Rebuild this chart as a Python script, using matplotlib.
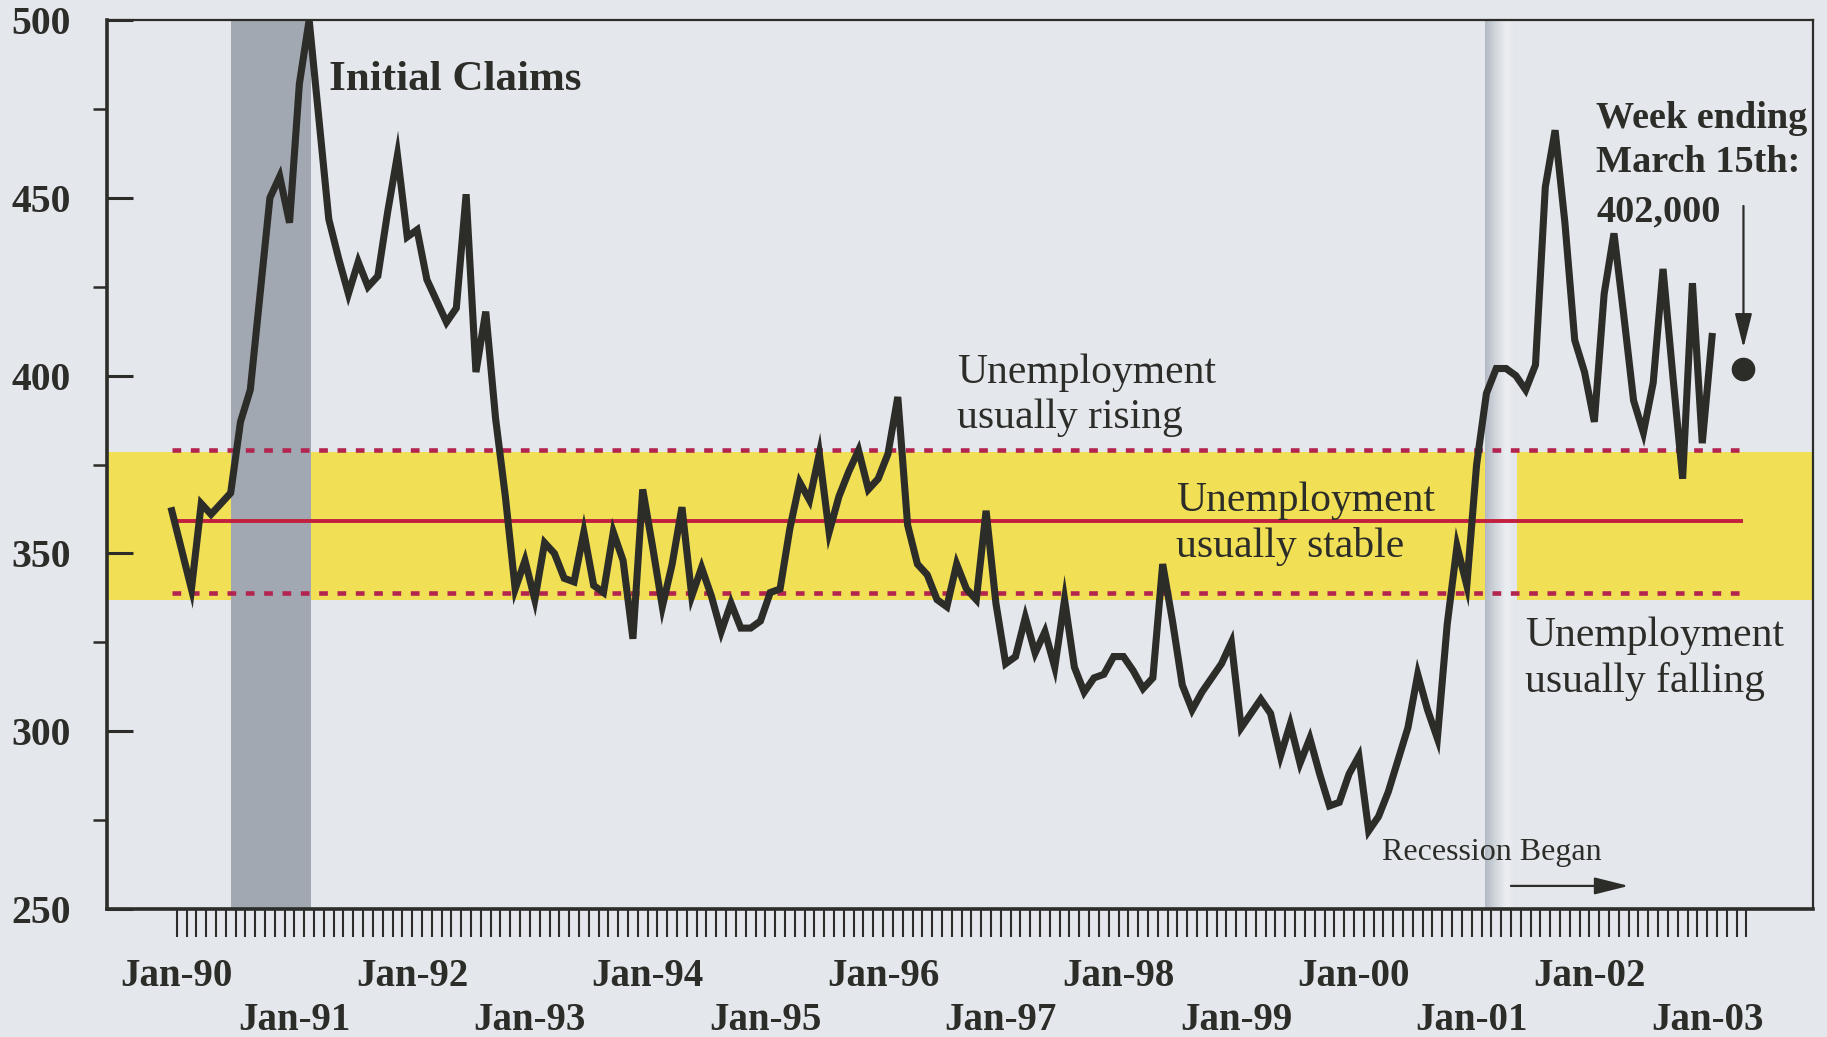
import numpy as np
import matplotlib.pyplot as plt
from matplotlib.ticker import FixedLocator, NullFormatter
from matplotlib.colors import LinearSegmentedColormap

# --- Data: initial jobless claims (thousands), monthly, first value Dec-89 ---
claims = [
    362, 351, 340, 364, 361, 364, 367, 387, 396, 423,
    450, 456, 443, 482, 500, 472, 444, 433, 423, 432,
    425, 428, 446, 462, 439, 441, 427, 421, 415, 419,
    451, 401, 418, 388, 366, 340, 348, 337, 353, 350,
    343, 342, 356, 341, 339, 356, 348, 326, 368, 352,
    335, 347, 363, 338, 346, 338, 328, 336, 329, 329,
    331, 339, 340, 357, 370, 365, 378, 356, 366, 373,
    379, 368, 371, 378, 394, 358, 347, 344, 337, 335,
    347, 340, 337, 362, 336, 319, 321, 332, 322, 328,
    318, 337, 318, 311, 315, 316, 321, 321, 317, 312,
    315, 347, 331, 313, 306, 311, 315, 319, 325, 301,
    305, 309, 305, 293, 302, 291, 298, 288, 279, 280,
    288, 293, 272, 276, 283, 292, 301, 316, 306, 298,
    330, 352, 341, 375, 395, 402, 402, 400, 396, 403,
    453, 469, 443, 410, 401, 387, 423, 440, 417, 393,
    384, 398, 430, 400, 371, 426, 381, 411,
]
year_labels = ["Jan-90", "Jan-91", "Jan-92", "Jan-93", "Jan-94", "Jan-95", "Jan-96",
               "Jan-97", "Jan-98", "Jan-99", "Jan-00", "Jan-01", "Jan-02", "Jan-03"]

stable_level = 359       # unemployment usually stable
rising_level = 379       # above: usually rising
falling_level = 339      # below: usually falling
band_low, band_high = 337, 378.5

latest_month = 159.7     # week ending March 15th, 2003
latest_value = 402

recession_1990 = (5.5, 13.7)
recession_2001 = (133.4, 136.6)
n_month_ticks = 161

# --- Style ---
BG = "#e4e7ec"
INK = "#2c2c28"
YELLOW = "#f1df55"
plt.rcParams["font.family"] = ["Liberation Serif", "DejaVu Serif"]

x = np.arange(len(claims)) - 0.5   # plotted mid-month, ticks at month starts (Jan-90 = 0)

fig = plt.figure(figsize=(18.27, 10.37), dpi=100, facecolor=BG)
ax = fig.add_axes([0.0586, 0.1234, 0.9338, 0.8573], facecolor=BG)
ax.set_xlim(-7.1, 166.8)
ax.set_ylim(250, 500)

# bands
ax.axhspan(band_low, band_high, color=YELLOW, lw=0, zorder=1)
ax.axvspan(*recession_1990, color="#a1a8b2", lw=0, zorder=2)
gutter = LinearSegmentedColormap.from_list("gutter", ["#b3bac4", "#d2d7dd", "#eceef2", "#e2e5ea"])
ax.imshow(np.linspace(0, 1, 64).reshape(1, -1), cmap=gutter, aspect="auto",
          extent=(recession_2001[0], recession_2001[1], 250, 500), zorder=2)

# reference lines
ax.hlines([rising_level, falling_level], x[0], latest_month, colors="#b3244f",
          lw=3.3, linestyles=(0, (1.9, 2.1)), zorder=3)
ax.hlines(stable_level, x[0], latest_month, colors="#c2203e", lw=2.8, zorder=3)

# claims
ax.plot(x, claims, color=INK, lw=5.1, solid_joinstyle="miter", zorder=5)
ax.plot(latest_month, latest_value, "o", color=INK, ms=16, zorder=6)

# axes look
for side in ["left", "bottom"]:
    ax.spines[side].set_linewidth(2.6)
for side in ["top", "right"]:
    ax.spines[side].set_linewidth(1.6)
for s in ax.spines.values():
    s.set_color(INK)
    s.set_zorder(7)

ax.yaxis.set_major_locator(FixedLocator(np.arange(250, 501, 50)))
ax.yaxis.set_minor_locator(FixedLocator(np.arange(275, 500, 50)))
ax.tick_params(axis="y", which="major", direction="in", length=19, width=2.2,
               color=INK, pad=26, labelsize=28.5, labelcolor=INK)
ax.tick_params(axis="y", which="minor", direction="out", length=10, width=1.8, color=INK)
for lab in ax.get_yticklabels():
    lab.set_fontweight("bold")

ax.xaxis.set_major_locator(FixedLocator(np.arange(0, 12 * len(year_labels), 12)))
ax.xaxis.set_minor_locator(FixedLocator(np.arange(n_month_ticks)))
ax.xaxis.set_minor_formatter(NullFormatter())
ax.set_xticklabels([lab if i % 2 == 0 else "\n" + lab for i, lab in enumerate(year_labels)],
                   fontweight="bold", linespacing=1.25)
ax.tick_params(axis="x", which="both", direction="out", length=20, width=1.5,
               color=INK, pad=15, labelsize=28, labelcolor=INK)

# annotations
ax.text(15.5, 483.0, "Initial Claims", fontsize=31, fontweight="bold", color=INK,
        va="center", ha="left", zorder=8)
ax.text(79.5, 394.5, "Unemployment\nusually rising", fontsize=30, color=INK,
        va="center", ha="left", linespacing=1.24, zorder=8)
ax.text(101.9, 358.4, "Unemployment\nusually stable", fontsize=30, color=INK,
        va="center", ha="left", linespacing=1.24, zorder=8)
ax.text(137.4, 320.4, "Unemployment\nusually falling", fontsize=30, color=INK,
        va="center", ha="left", linespacing=1.24, zorder=8)
ax.text(122.9, 266.0, "Recession Began", fontsize=23, color=INK,
        va="center", ha="left", zorder=8)
ax.annotate("", xy=(148, 256.5), xytext=(136, 256.5),
            arrowprops=dict(arrowstyle="-|>,head_length=0.6,head_width=0.15",
                            mutation_scale=35, color=INK, lw=1.6, shrinkA=0, shrinkB=0),
            zorder=8)
ax.text(144.7, 466.1, "Week ending\nMarch 15th:", fontsize=27.5, fontweight="bold", color=INK,
        va="center", ha="left", linespacing=1.32, zorder=8)
ax.text(144.7, 446.0, f"{latest_value},000", fontsize=27.5, fontweight="bold", color=INK,
        va="center", ha="left", zorder=8)
ax.annotate("", xy=(latest_month, 407.8), xytext=(latest_month, 447.7),
            arrowprops=dict(arrowstyle="-|>,head_length=0.6,head_width=0.15",
                            mutation_scale=35, color=INK, lw=1.6, shrinkA=0, shrinkB=0),
            zorder=8)

fig.savefig("out.png", dpi=100, facecolor=BG)
